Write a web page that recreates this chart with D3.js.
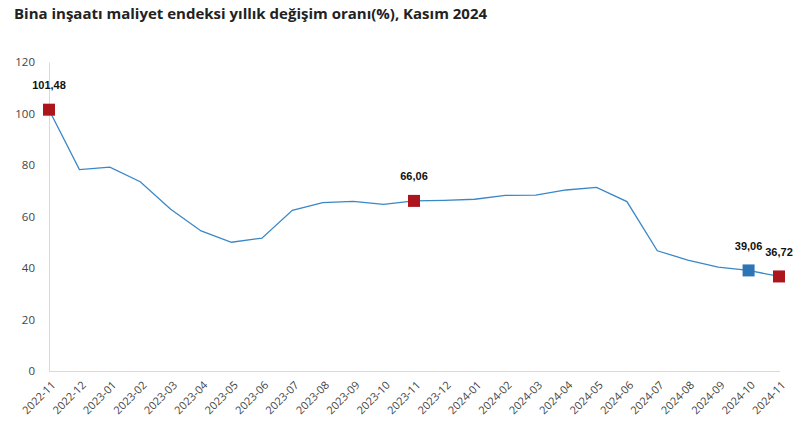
<!DOCTYPE html>
<html>
<head>
<meta charset="utf-8">
<script src="https://cdn.jsdelivr.net/npm/d3@7"></script>
<style>
  body { margin: 0; background: #fff; }
  svg { font-family: "Open Sans", "Noto Sans", sans-serif; }
</style>
</head>
<body>
<div id="chart"></div>
<script>
// data
var months = ["2022-11", "2022-12", "2023-01", "2023-02", "2023-03", "2023-04", "2023-05",
  "2023-06", "2023-07", "2023-08", "2023-09", "2023-10", "2023-11", "2023-12", "2024-01",
  "2024-02", "2024-03", "2024-04", "2024-05", "2024-06", "2024-07", "2024-08", "2024-09",
  "2024-10", "2024-11"];
var rates = [101.48, 78.2, 79.2, 73.5, 62.8, 54.4, 50.0, 51.6, 62.4, 65.4, 65.9, 64.7, 66.06,
  66.3, 66.7, 68.2, 68.3, 70.3, 71.3, 65.8, 46.7, 43.1, 40.3, 39.06, 36.72];
var yTicks = [0, 20, 40, 60, 80, 100, 120];
// highlighted points
var redPoints = ["2022-11", "2023-11", "2024-11"];
var bluePoints = ["2024-10"];

var svgWidth = 808;
var svgHeight = 434;
var margin = { top: 62, right: 29, bottom: 63, left: 49 };
var width = svgWidth - margin.left - margin.right;
var height = svgHeight - margin.top - margin.bottom;

var svg = d3.select("#chart")
  .append("svg")
  .attr("width", svgWidth)
  .attr("height", svgHeight);

svg.append("text")
  .attr("x", 14)
  .attr("y", 19)
  .attr("font-size", "15px")
  .attr("font-weight", "bold")
  .attr("fill", "#222")
  .text("Bina inşaatı maliyet endeksi yıllık değişim oranı(%), Kasım 2024");

var chartGroup = svg.append("g")
  .attr("transform", `translate(${margin.left}, ${margin.top})`);

var data = months.map((m, i) => ({ month: m, value: rates[i] }));

var xScale = d3.scalePoint()
  .domain(months)
  .range([0, 730]);

var yScale = d3.scaleLinear()
  .domain([0, 120])
  .range([height, 0]);

// y axis
var leftAxis = d3.axisLeft(yScale).tickValues(yTicks).tickSize(0).tickPadding(14);
var yAxis = chartGroup.append("g").call(leftAxis);
yAxis.select(".domain").attr("stroke", "#d9d9d9");
yAxis.selectAll("text")
  .attr("font-size", "11.5px")
  .attr("fill", "#444")
  .attr("font-family", "'Open Sans', sans-serif");

// x axis
var bottomAxis = d3.axisBottom(xScale).tickSize(0).tickPadding(0);
var xAxis = chartGroup.append("g")
  .attr("transform", `translate(0, ${height})`)
  .call(bottomAxis);
xAxis.select(".domain").attr("stroke", "#d9d9d9").attr("d", `M0,0.5H731`);
xAxis.selectAll("text")
  .attr("font-size", "11px")
  .attr("fill", "#444")
  .attr("font-family", "'Open Sans', sans-serif")
  .attr("text-anchor", "end")
  .attr("dy", "0.35em")
  .attr("transform", "translate(4, 12) rotate(-45)");

// line
var line = d3.line()
  .x(d => xScale(d.month))
  .y(d => yScale(d.value));

chartGroup.append("path")
  .datum(data)
  .attr("fill", "none")
  .attr("stroke", "#3a87c8")
  .attr("stroke-width", 1.3)
  .attr("d", line);

// markers
var marked = data.filter(d => redPoints.includes(d.month) || bluePoints.includes(d.month));
var s = 12;

chartGroup.selectAll("rect.marker")
  .data(marked)
  .enter()
  .append("rect")
  .attr("class", "marker")
  .attr("x", d => xScale(d.month) - s / 2)
  .attr("y", d => yScale(d.value) - s / 2)
  .attr("width", s)
  .attr("height", s)
  .attr("fill", d => bluePoints.includes(d.month) ? "#2e75b6" : "#ad151c");

chartGroup.selectAll("text.label")
  .data(marked)
  .enter()
  .append("text")
  .attr("class", "label")
  .attr("x", d => xScale(d.month))
  .attr("y", d => yScale(d.value) - 20.5)
  .attr("text-anchor", "middle")
  .attr("font-size", "11px")
  .attr("font-weight", "bold")
  .attr("font-family", "'Liberation Sans', Arial, sans-serif")
  .attr("fill", "#111")
  .text(d => d3.format(".2f")(d.value).replace(".", ","));
</script>
</body>
</html>
